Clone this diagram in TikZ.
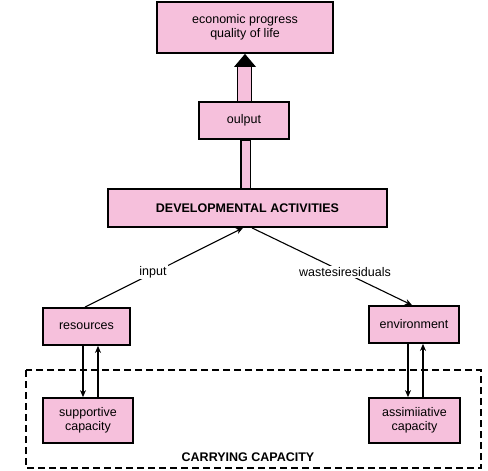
\documentclass[tikz,border=0pt]{standalone}
\usepackage{fontspec}
\setmainfont{Liberation Sans}
\usetikzlibrary{arrows.meta,calc}
\definecolor{boxpink}{RGB}{246,192,220}
\tikzset{
  box/.style={draw=black, line width=1.8pt, fill=boxpink, inner sep=0pt, align=center,
    font=\fontsize{12.5}{14}\selectfont},
  conn/.style={draw=black, line width=1.1pt, -{Stealth[length=7pt,width=6pt]}},
  plain/.style={draw=black, line width=1.1pt},
  lbl/.style={fill=white, inner sep=1.5pt, font=\fontsize{12.5}{14}\selectfont}
}
\begin{document}
\begin{tikzpicture}[x=1pt,y=-1pt]
\useasboundingbox (0,0) rectangle (488,471);
% dashed carrying capacity region
\draw[dashed, line width=1.1pt, dash pattern=on 7pt off 4pt] (26,370) rectangle (481,468);
\node[font=\bfseries\fontsize{12.5}{14}\selectfont] (cc) at (248,457) {CARRYING CAPACITY};

\node[box, minimum width=176pt, minimum height=51pt] (top) at (245,27.5) {economic progress\\quality of life};
\node[box, minimum width=90pt, minimum height=37pt] (out) at (244,120.5) {oulput};
\node[box, minimum width=279pt, minimum height=38pt, font=\bfseries\fontsize{12.5}{14}\selectfont] (dev) at (247.5,208) {DEVELOPMENTAL ACTIVITIES};
\node[box, minimum width=87pt, minimum height=37pt] (res) at (86.5,326.5) {resources};
\node[box, minimum width=90pt, minimum height=37pt] (env) at (414,324.5) {environment};
\node[box, minimum width=90pt, minimum height=45pt] (sup) at (88,420.5) {supportive\\capacity};
\node[box, minimum width=91pt, minimum height=45pt] (ass) at (414.5,420.5) {assimiiative\\capacity};

% thick arrow from dev through output to top
\draw[line width=1.2pt, fill=boxpink] ($(dev.north)+(-6.5,0)$) rectangle ($(out.south)+(6.5,0)$);
\draw[line width=1.2pt, fill=boxpink] ($(out.north)+(-6.5,0)$) rectangle ($(top.south)+(6.5,12)$);
\fill[black] ($(top.south)+(-11,13)$) -- ($(top.south)+(11,13)$) -- (top.south) -- cycle;

% input / wastes
\coordinate (inEnd) at ($(dev.south)+(-4.5,0)$);
\coordinate (wsStart) at ($(dev.south)+(4.5,0)$);
\draw[conn] ($(res.north)+(-1.5,0)$) -- (inEnd);
\draw[conn] (wsStart) -- ($(env.north)+(-2,0)$);
\node[lbl] (inl) at (153,272) {input};
\node[lbl] (wsl) at (345,272) {wastesiresiduals};

% vertical arrows
\draw[conn] ($(res.south)+(-3.5,0)$) -- ($(sup.north)+(-5,0)$);
\draw[conn] ($(sup.north)+(10,0)$) -- ($(res.south)+(11.5,0)$);
\draw[conn] ($(env.south)+(-6,0)$) -- ($(ass.north)+(-6.5,0)$);
\draw[conn] ($(ass.north)+(8.5,0)$) -- ($(env.south)+(9,0)$);
\end{tikzpicture}
\end{document}
